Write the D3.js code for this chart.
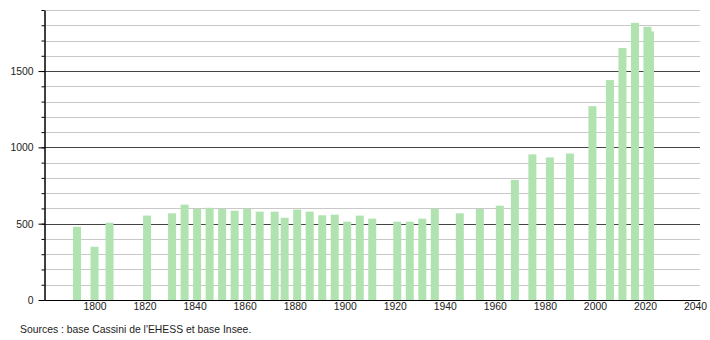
<!DOCTYPE html>
<html>
<head>
<meta charset="utf-8">
<script src="https://cdn.jsdelivr.net/npm/d3@7"></script>
<style>
html,body{margin:0;padding:0;background:#fff;}
svg{display:block;font-family:"Liberation Sans",Arial,sans-serif;}
</style>
</head>
<body>
<svg id="chart" width="710" height="340"></svg>
<script>
const years = [1793,1800,1806,1821,1831,1836,1841,1846,1851,1856,1861,1866,1872,1876,1881,1886,1891,1896,1901,1906,1911,1921,1926,1931,1936,1946,1954,1962,1968,1975,1982,1990,1999,2006,2011,2016,2021,2022];
const population = [480,349,506,553,568,625,597,604,597,585,597,579,579,539,592,579,555,559,513,553,533,513,513,533,597,568,597,618,787,954,934,960,1270,1441,1651,1816,1790,1760];
const xTicks = [1800,1820,1840,1860,1880,1900,1920,1940,1960,1980,2000,2020,2040];
const yMajorTicks = [0,500,1000,1500];
const yMinorTicks = d3.range(0,1901,100);
const sourceText = "Sources : base Cassini de l'EHESS et base Insee.";

(function(){
const svg = d3.select("#chart");
const mLeft = 44.5, mRight = 700, mTop = 10, mBottom = 300;
const x = d3.scaleLinear().domain([1780,2042]).range([mLeft,mRight]);
const y = d3.scaleLinear().domain([0,1900]).range([mBottom,mTop]);
const fontSize = 10.4;

// minor gridlines
svg.append("g").selectAll("line").data(yMinorTicks.filter(v=>v%500!==0)).join("line")
  .attr("x1",mLeft).attr("x2",mRight)
  .attr("y1",d=>Math.round(y(d))+0.5).attr("y2",d=>Math.round(y(d))+0.5)
  .attr("stroke","#c8c8c8").attr("stroke-width",1);
// major gridlines
svg.append("g").selectAll("line").data(yMajorTicks.filter(v=>v>0)).join("line")
  .attr("x1",mLeft).attr("x2",mRight)
  .attr("y1",d=>Math.round(y(d))+0.5).attr("y2",d=>Math.round(y(d))+0.5)
  .attr("stroke","#444").attr("stroke-width",1);

// bars
const barW = 8;
svg.append("g").selectAll("rect").data(years.map((yr,i)=>({yr,v:population[i]}))).join("rect")
  .attr("x",d=>x(d.yr)-barW/2)
  .attr("width",barW)
  .attr("y",d=>y(d.v))
  .attr("height",d=>mBottom-y(d.v))
  .attr("fill","#b0e3b0");

// y axis
const yAxisMinor = d3.axisLeft(y).tickValues(yMinorTicks).tickSize(3).tickFormat("");
const gyMinor = svg.append("g").attr("transform",`translate(${mLeft},0)`).call(yAxisMinor);
gyMinor.select(".domain").remove();
gyMinor.selectAll("line").attr("stroke","#000");
const yAxis = d3.axisLeft(y).tickValues(yMajorTicks).tickSize(6).tickSizeOuter(0).tickPadding(5).tickFormat(d3.format("d"));
const gy = svg.append("g").attr("transform",`translate(${mLeft},0)`).call(yAxis);
gy.select(".domain").attr("stroke","#000").attr("stroke-width",1.5);
gy.selectAll("line").attr("stroke","#000");
gy.selectAll("text").attr("font-size",fontSize).attr("fill","#222").attr("font-family","Liberation Sans, Arial, sans-serif");

// x axis
const xAxis = d3.axisBottom(x).tickValues(xTicks).tickSize(0).tickSizeOuter(0).tickPadding(3).tickFormat(d3.format("d"));
const gx = svg.append("g").attr("transform",`translate(0,${mBottom})`).call(xAxis);
gx.select(".domain").attr("stroke","#000").attr("stroke-width",1.2);
gx.selectAll("text").attr("font-size",fontSize).attr("fill","#222").attr("font-family","Liberation Sans, Arial, sans-serif");

// source
svg.append("text").attr("x",20).attr("y",333).attr("font-size",fontSize).attr("fill","#222").text(sourceText);
})();
</script>
</body>
</html>
